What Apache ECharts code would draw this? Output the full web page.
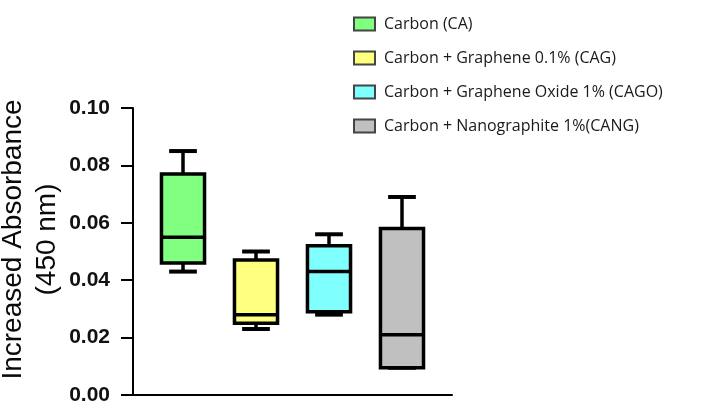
<!DOCTYPE html>
<html>
<head>
<meta charset="utf-8">
<script src="https://cdn.jsdelivr.net/npm/echarts@6/dist/echarts.min.js"></script>
<style>
  html, body { margin: 0; padding: 0; background: #fff; }
  #chart { width: 719px; height: 402px; }
</style>
</head>
<body>
<div id="chart"></div>
<script>
// groups, in plotting order
const groupNames = [
  'Carbon (CA)',
  'Carbon + Graphene 0.1% (CAG)',
  'Carbon + Graphene Oxide 1% (CAGO)',
  'Carbon + Nanographite 1%(CANG)'
];
const groupColors = ['#80ff80', '#ffff80', '#80ffff', '#c0c0c0'];
const groupPos = [1, 2, 3, 4];

// box stats: min, q1, median, q3, max
const statsCA = [0.043, 0.046, 0.055, 0.077, 0.085];
const statsCAG = [0.023, 0.025, 0.028, 0.047, 0.050];
const statsCAGO = [0.028, 0.029, 0.043, 0.052, 0.056];
const statsCANG = [0.0095, 0.0095, 0.021, 0.058, 0.069];
const allStats = [statsCA, statsCAG, statsCAGO, statsCANG];

// y axis
const yMin = 0;
const yMax = 0.1;
const yStep = 0.02;

// draw one box with whiskers
function renderBox(params, api) {
  const x = api.value(0);
  const unit = api.size([1, 0])[0];
  const half = unit * 0.295;
  const capHalf = unit * 0.19;
  const y = i => api.coord([x, api.value(i)])[1];
  const cx = api.coord([x, 0])[0];
  const vMin = y(1), q1 = y(2), med = y(3), q3 = y(4), vMax = y(5);
  const fill = api.visual('color');
  const ln = { stroke: '#000', lineWidth: 3.5 };
  const cap = { stroke: '#000', lineWidth: 4 };
  return {
    type: 'group',
    children: [
      { type: 'line', shape: { x1: cx, y1: vMax, x2: cx, y2: q3 }, style: ln },
      { type: 'line', shape: { x1: cx - capHalf, y1: vMax, x2: cx + capHalf, y2: vMax }, style: cap },
      { type: 'line', shape: { x1: cx, y1: q1, x2: cx, y2: vMin }, style: ln },
      { type: 'line', shape: { x1: cx - capHalf, y1: vMin, x2: cx + capHalf, y2: vMin }, style: cap },
      {
        type: 'rect',
        shape: { x: cx - half, y: q3, width: half * 2, height: q1 - q3 },
        style: { fill: fill, stroke: '#000', lineWidth: 3.5 }
      },
      { type: 'line', shape: { x1: cx - half, y1: med, x2: cx + half, y2: med }, style: ln }
    ]
  };
}

const chart = echarts.init(document.getElementById('chart'));

chart.setOption({
  animation: false,
  grid: { left: 133, right: 267, top: 108, bottom: 7, containLabel: false, outerBoundsMode: 'none' },
  legend: {
    orient: 'vertical',
    left: 353,
    top: 16,
    padding: 0,
    itemWidth: 21,
    itemHeight: 13,
    itemGap: 18,
    icon: 'rect',
    textStyle: {
      fontFamily: 'Open Sans',
      fontSize: 16,
      lineHeight: 16,
      color: '#1a1a1a',
      padding: [0, 0, 0, 4]
    },
    data: groupNames
  },
  xAxis: {
    type: 'value',
    min: 0.315,
    max: 4.685,
    axisLine: { show: true, onZero: true, lineStyle: { color: '#000', width: 2 } },
    axisTick: { show: false },
    axisLabel: { show: false },
    splitLine: { show: false }
  },
  yAxis: {
    type: 'value',
    min: yMin,
    max: yMax,
    interval: yStep,
    name: 'Increased Absorbance\n(450 nm)',
    nameLocation: 'middle',
    nameGap: 69,
    nameTextStyle: {
      fontFamily: 'Liberation Sans',
      fontSize: 28,
      lineHeight: 34,
      color: '#0a0a0a',
      padding: [0, 0, 0, 24]
    },
    axisLine: { show: true, lineStyle: { color: '#000', width: 2 } },
    axisTick: { show: true, length: 12, lineStyle: { color: '#000', width: 2 } },
    axisLabel: {
      margin: 23,
      fontFamily: 'Liberation Sans',
      fontWeight: 'bold',
      fontSize: 21,
      color: '#111',
      formatter: v => v.toFixed(2)
    },
    splitLine: { show: false }
  },
  series: allStats.map((s, i) => ({
    name: groupNames[i],
    type: 'custom',
    renderItem: renderBox,
    itemStyle: { color: groupColors[i], borderColor: '#444', borderWidth: 1 },
    encode: { x: 0, y: [1, 2, 3, 4, 5] },
    data: [[groupPos[i]].concat(s)]
  }))
});
</script>
</body>
</html>
